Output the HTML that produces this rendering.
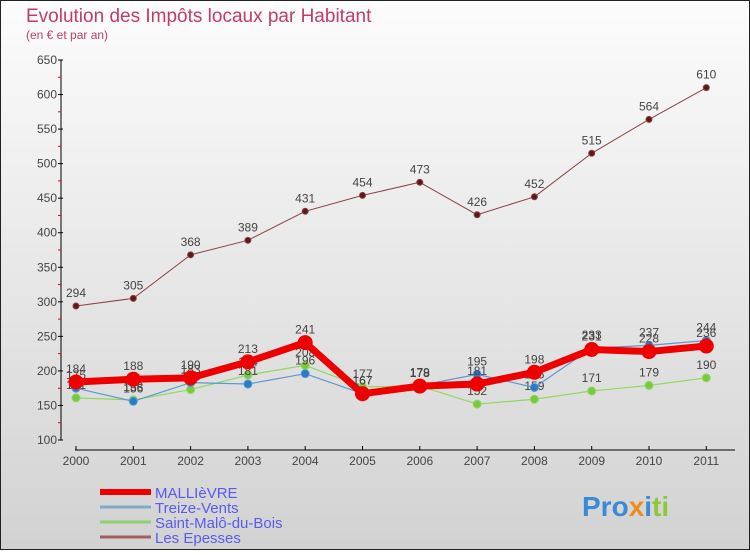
<!DOCTYPE html>
<html><head><meta charset="utf-8"><style>
body{margin:0}
svg text{font-family:"Liberation Sans",sans-serif}
</style></head><body>
<svg width="750" height="550" xmlns="http://www.w3.org/2000/svg">
<defs><linearGradient id="bg" x1="0" y1="0" x2="0" y2="1"><stop offset="0" stop-color="#fcfcfc"/><stop offset="1" stop-color="#d2d2d2"/></linearGradient></defs>
<rect x="0.5" y="0.5" width="749" height="549" fill="url(#bg)" stroke="#222"/>
<text x="26" y="22" font-size="19" fill="#c03c6a">Evolution des Impôts locaux par Habitant</text>
<text x="26" y="39" font-size="12" fill="#c03c6a">(en € et par an)</text>
<g id="axes"></g>
<g id="series"></g>
<g id="legend"></g>
<text x="582" y="516" font-size="28" font-weight="bold" fill="#3a8ad8">Pro<tspan fill="#f08c1c">x</tspan><tspan fill="#3a8ad8">i</tspan><tspan fill="#8cc83c">ti</tspan></text>
<script>
const years=[2000,2001,2002,2003,2004,2005,2006,2007,2008,2009,2010,2011];
const yTicks=[100,150,200,250,300,350,400,450,500,550,600,650];
const maillevre=[184,188,190,213,241,167,178,181,198,231,228,236];
const treize=[175,156,183,181,196,167,179,195,176,233,237,244];
const saint=[161,158,173,194,208,177,178,152,159,171,179,190];
const epesses=[294,305,368,389,431,454,473,426,452,515,564,610];
const NS="http://www.w3.org/2000/svg";
function X(i){return 76+i*57.3;}
function Y(v){return 440-(v-100)*380/550;}
function mk(tag,attrs,parent,txt){const e=document.createElementNS(NS,tag);for(const k in attrs)e.setAttribute(k,attrs[k]);if(txt!==undefined)e.textContent=txt;parent.appendChild(e);return e;}
const ax=document.getElementById('axes');
let yl=mk('line',{x1:61,y1:60,x2:61,y2:440,stroke:'#000'},ax);


yTicks.forEach(v=>{
 mk('line',{x1:58,y1:Y(v),x2:63,y2:Y(v),stroke:'#000'},ax);
 if(v<650)mk('line',{x1:58,y1:Y(v+25),x2:61,y2:Y(v+25),stroke:'#e00'},ax);
 let t=mk('text',{x:57,y:Y(v)+4,'font-size':12,'text-anchor':'end',fill:'#444'},ax,v);
 
 
});
let xl=mk('line',{x1:75,y1:450,x2:735,y2:450,stroke:'#000'},ax);


years.forEach((y,i)=>{
 mk('line',{x1:X(i),y1:446,x2:X(i),y2:450,stroke:'#000'},ax);
 let t=mk('text',{x:X(i),y:465,'font-size':12,'text-anchor':'middle',fill:'#444'},ax,y);
 
 
});
const sg=document.getElementById('series');
function draw(arr,color,w,r,name,dot,above){
 const g=mk('g',{},sg);
 
 
 mk('polyline',{points:arr.map((v,i)=>X(i)+','+Y(v)).join(' '),fill:'none',stroke:color,'stroke-width':w,'stroke-linejoin':'round'},g);
 arr.forEach((v,i)=>{
  const c=mk('circle',{cx:X(i),cy:Y(v),r:r,fill:dot,stroke:color,'stroke-width':1},g);
  
  
  if(above){const t=mk('text',{x:X(i),y:Y(v)-9,'font-size':12,'text-anchor':'middle',fill:'#444'},g,v);
  
  }
 });
}
draw(epesses,'#8b4040',1,3,'les-epesses-series','#5a1a1a',true);
draw(saint,'#90d860',1.2,4,'saint-malo-series','#7ac840',true);
draw(treize,'#5a9ad0',1.2,4,'treize-vents-series','#2a7ac8',true);
draw(maillevre,'#ee0000',7,7,'maillevre-series','#ee0000',true);
const lg=document.getElementById('legend');
const leg=[['MALLIèVRE','#ee0000',6],['Treize-Vents','#80aacc',3],['Saint-Malô-du-Bois','#90d070',3],['Les Epesses','#a06060',3]];
leg.forEach((l,i)=>{
 const y=492+i*15;
 const g=mk('g',{},lg);
 
 
 mk('line',{x1:100,y1:y,x2:151,y2:y,stroke:l[1],'stroke-width':l[2]},g);
 mk('text',{x:155,y:y+6,'font-size':15,fill:'#5a5aee'},g,l[0]);
});
</script>
</svg>
</body></html>
